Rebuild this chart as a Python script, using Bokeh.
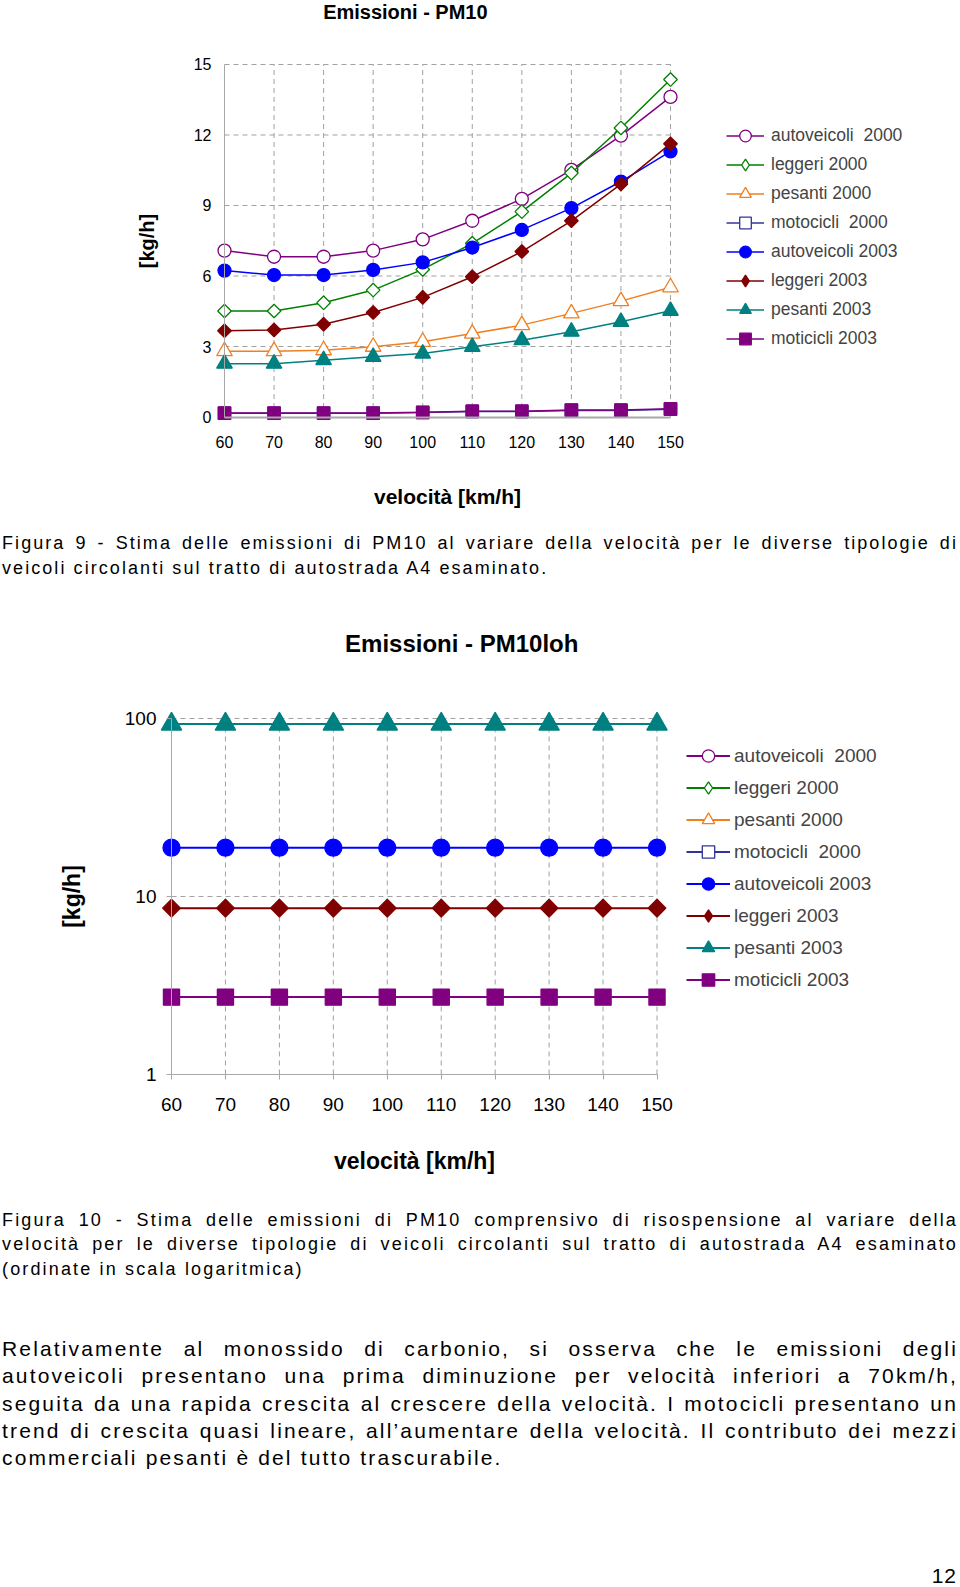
import numpy as np
from bokeh.plotting import figure
from bokeh.models import (Range1d, FixedTicker, Label, Legend, LegendItem, Div,
                          BasicTickFormatter)
from bokeh.layouts import column
from bokeh.embed import file_html
from bokeh.resources import INLINE

# ---------------- data ----------------
speeds = [60, 70, 80, 90, 100, 110, 120, 130, 140, 150]
y_ticks_lin = [0, 3, 6, 9, 12, 15]
y_ticks_log = [1, 10, 100]

labels = ["autoveicoli  2000", "leggeri 2000", "pesanti 2000", "motocicli  2000",
          "autoveicoli 2003", "leggeri 2003", "pesanti 2003", "moticicli 2003"]

# Figura 9 - PM10 [kg/h]
pm10_auto_2000 = [7.08, 6.82, 6.82, 7.08, 7.56, 8.35, 9.28, 10.52, 11.97, 13.62]
pm10_legg_2000 = [4.51, 4.51, 4.86, 5.40, 6.28, 7.39, 8.74, 10.38, 12.30, 14.36]
pm10_pes_2000 = [2.80, 2.80, 2.84, 2.99, 3.20, 3.55, 3.91, 4.41, 4.93, 5.52]
pm10_moto_2000 = [0.16, 0.16, 0.16, 0.16, 0.19, 0.23, 0.23, 0.28, 0.28, 0.33]
pm10_auto_2003 = [6.23, 6.04, 6.04, 6.26, 6.58, 7.21, 7.96, 8.89, 10.02, 11.30]
pm10_legg_2003 = [3.67, 3.70, 3.95, 4.45, 5.09, 5.97, 7.04, 8.35, 9.91, 11.63]
pm10_pes_2003 = [2.27, 2.27, 2.42, 2.56, 2.70, 2.99, 3.27, 3.63, 4.05, 4.52]
pm10_moto_2003 = [0.17, 0.17, 0.17, 0.17, 0.20, 0.25, 0.25, 0.30, 0.30, 0.35]

# Figura 10 - PM10 con risospensione [kg/h] (log); 2000 series not plotted
loh_auto_2000 = [None, None, None, None, None, None, None, None, None, None]
loh_legg_2000 = [None, None, None, None, None, None, None, None, None, None]
loh_pes_2000 = [None, None, None, None, None, None, None, None, None, None]
loh_moto_2000 = [None, None, None, None, None, None, None, None, None, None]
loh_auto_2003 = [18.8, 18.8, 18.8, 18.8, 18.8, 18.8, 18.8, 18.8, 18.8, 18.8]
loh_legg_2003 = [8.6, 8.6, 8.6, 8.6, 8.6, 8.6, 8.6, 8.6, 8.6, 8.6]
loh_pes_2003 = [93.0, 93.0, 93.0, 93.0, 93.0, 93.0, 93.0, 93.0, 93.0, 93.0]
loh_moto_2003 = [2.72, 2.72, 2.72, 2.72, 2.72, 2.72, 2.72, 2.72, 2.72, 2.72]

# ---------------- styles ----------------
FONT = "Liberation Sans"
GRID = "#a0a0a0"
AXIS = "#a8a8a8"
W = 960

# (color, marker, filled, angle)
styles = [
    ("#800080", "circle", False, 0.0),
    ("#008000", "square", False, 0.785398),
    ("#f07f1f", "triangle", False, 0.0),
    ("#333399", "square", False, 0.0),
    ("#0000ff", "circle", True, 0.0),
    ("#800000", "square", True, 0.785398),
    ("#008080", "triangle", True, 0.0),
    ("#800080", "square", True, 0.0),
]


def marker_size(marker, angle, base):
    if marker == "circle":
        return base
    if marker == "triangle":
        return base * 1.2
    if angle:
        return base * 0.74
    return base * 0.95


def make_fig(h, xr, yr, log=False):
    p = figure(width=W, height=h, x_range=Range1d(*xr), y_range=Range1d(*yr),
               y_axis_type="log" if log else "linear",
               min_border=0, min_border_left=0, min_border_right=0,
               min_border_top=0, min_border_bottom=0, title=None,
               output_backend="svg", toolbar_location=None)
    p.outline_line_color = None
    p.grid.visible = False
    for ax in p.axis:
        ax.major_label_text_font = FONT
        ax.major_label_text_color = "#000000"
        ax.minor_tick_line_color = None
        ax.axis_line_color = AXIS
        ax.major_tick_line_color = AXIS
        ax.major_tick_in = 0
        ax.axis_label_text_font = FONT
        ax.axis_label_text_font_style = "bold"
        ax.axis_label_text_color = "#000000"
    return p


def add_grid(p, yt, dash_w):
    n_x = len(speeds)
    p.segment(x0=speeds[1:], y0=[yt[0]] * (n_x - 1), x1=speeds[1:],
              y1=[yt[-1]] * (n_x - 1), line_color=GRID, line_dash=dash_w,
              line_width=1)
    p.segment(x0=[speeds[0]] * (len(yt) - 1), y0=yt[1:],
              x1=[speeds[-1]] * (len(yt) - 1), y1=yt[1:],
              line_color=GRID, line_dash=dash_w, line_width=1)


def add_series(p, ys_list, base_size, lw):
    items = []
    for lab, ys, (col, mk, filled, ang) in zip(labels, ys_list, styles):
        ys = [np.nan if v is None else v for v in ys]
        xs = speeds[:len(ys)]
        fill = col if filled else "#ffffff"
        lr = p.line(xs, ys, line_color=col, line_width=lw)
        sr = p.scatter(xs, ys, marker=mk, size=marker_size(mk, ang, base_size),
                       angle=ang, line_color=col, line_width=1.3, fill_color=fill)
        if ang:
            # legend glyphs are drawn unrotated: use a diamond proxy for the key
            proxy = p.scatter([np.nan], [np.nan], marker="diamond", size=base_size,
                              line_color=col, line_width=1.3, fill_color=fill)
            items.append(LegendItem(label=lab, renderers=[lr, proxy]))
        else:
            items.append(LegendItem(label=lab, renderers=[lr, sr]))
    return items


# ---------------- chart 1 (linear) ----------------
p1 = make_fig(520, (14.80, 208.52), (-4.404, 17.723))
p1.xaxis.ticker = FixedTicker(ticks=speeds)
p1.yaxis.ticker = FixedTicker(ticks=y_ticks_lin)
p1.xaxis.fixed_location = y_ticks_lin[0]
p1.yaxis.fixed_location = speeds[0]
p1.xaxis.bounds = (speeds[0], speeds[-1])
p1.yaxis.bounds = (y_ticks_lin[0], y_ticks_lin[-1])
for ax in p1.axis:
    ax.major_label_text_font_size = "16px"
    ax.major_tick_out = 0
p1.xaxis.axis_line_width = 2
p1.xaxis.major_label_standoff = 19
p1.yaxis.major_label_standoff = 13
p1.xaxis.axis_label = "velocità [km/h]"
p1.xaxis.axis_label_text_font_size = "21px"
p1.xaxis.axis_label_standoff = 33
p1.yaxis.axis_label = "[kg/h]"
p1.yaxis.axis_label_text_font_size = "20px"
p1.yaxis.axis_label_standoff = 33

add_grid(p1, y_ticks_lin, "5 4")
items1 = add_series(p1, [pm10_auto_2000, pm10_legg_2000, pm10_pes_2000, pm10_moto_2000,
                         pm10_auto_2003, pm10_legg_2003, pm10_pes_2003, pm10_moto_2003],
                    13, 1.5)
leg1 = Legend(items=items1, location=(726, 167), glyph_width=38, glyph_height=29,
              spacing=0, padding=0, margin=0, label_standoff=7,
              label_text_font=FONT, label_text_font_size="17.5px",
              label_height=20, border_line_color=None, background_fill_alpha=0)
p1.add_layout(leg1)
p1.add_layout(Label(x=96.5, y=17.25, text="Emissioni - PM10", text_font=FONT,
                    text_font_size="20px", text_font_style="bold",
                    text_color="#000000",
                    text_align="center", text_baseline="middle"))


# ---------------- text blocks ----------------
def text_block(lines, size, lh, pad_top, height, ls, last_left=True):
    parts = []
    for i, ln in enumerate(lines):
        last = (i == len(lines) - 1) and last_left
        al = "left" if last else "justify"
        parts.append(f'<div style="text-align:justify;text-align-last:{al};">{ln}</div>')
    html = (f'<div style="font-family:\'{FONT}\',sans-serif;font-size:{size}px;'
            f'line-height:{lh}px;padding-top:{pad_top}px;letter-spacing:{ls}px;'
            f'padding-left:2px;padding-right:2px;box-sizing:border-box;'
            f'color:#000;width:{W}px;">' + "".join(parts) + "</div>")
    return Div(text=html, width=W, height=height, margin=(0, 0, 0, 0))


cap1_lines = [
    "Figura 9 - Stima delle emissioni di PM10 al variare della velocità per le diverse tipologie di",
    "veicoli circolanti sul tratto di autostrada A4 esaminato.",
]
cap1 = text_block(cap1_lines, 18, 25, 10.5, 65, 2.07)

# ---------------- chart 2 (log) ----------------
p2 = make_fig(600, (28.30, 206.26), (0.2378, 558.7), log=True)
p2.xaxis.ticker = FixedTicker(ticks=speeds)
p2.yaxis.ticker = FixedTicker(ticks=y_ticks_log)
p2.yaxis.formatter = BasicTickFormatter()
p2.xaxis.fixed_location = y_ticks_log[0]
p2.yaxis.fixed_location = speeds[0]
p2.xaxis.bounds = (speeds[0], speeds[-1])
p2.yaxis.bounds = (y_ticks_log[0], y_ticks_log[-1])
for ax in p2.axis:
    ax.major_label_text_font_size = "19px"
    ax.major_tick_out = 5
p2.xaxis.major_label_standoff = 19
p2.yaxis.major_label_standoff = 10
p2.xaxis.axis_label = "velocità [km/h]"
p2.xaxis.axis_label_text_font_size = "23px"
p2.xaxis.axis_label_standoff = 33
p2.yaxis.axis_label = "[kg/h]"
p2.yaxis.axis_label_text_font_size = "23px"
p2.yaxis.axis_label_standoff = 37

add_grid(p2, y_ticks_log, "5 4")
items2 = add_series(p2, [loh_auto_2000, loh_legg_2000, loh_pes_2000, loh_moto_2000,
                         loh_auto_2003, loh_legg_2003, loh_pes_2003, loh_moto_2003],
                    17, 2)
leg2 = Legend(items=items2, location=(686, 190), glyph_width=44, glyph_height=31,
              spacing=1, padding=0, margin=0, label_standoff=4,
              label_text_font=FONT, label_text_font_size="19px",
              label_height=20, border_line_color=None, background_fill_alpha=0)
p2.add_layout(leg2)
p2.add_layout(Label(x=113.8, y=263.9, text="Emissioni - PM10loh", text_font=FONT,
                    text_font_size="24px", text_font_style="bold",
                    text_color="#000000",
                    text_align="center", text_baseline="middle"))

# ---------------- caption 2 and paragraph ----------------
cap2_lines = [
    "Figura 10 - Stima delle emissioni di PM10 comprensivo di risospensione al variare della",
    "velocità per le diverse tipologie di veicoli circolanti sul tratto di autostrada A4 esaminato",
    "(ordinate in scala logaritmica)",
]
cap2 = text_block(cap2_lines, 18, 24.4, 22.8, 105, 2.15)

para_lines = [
    "Relativamente al monossido di carbonio, si osserva che le emissioni degli",
    "autoveicoli presentano una prima diminuzione per velocità inferiori a 70km/h,",
    "seguita da una rapida crescita al crescere della velocità. I motocicli presentano un",
    "trend di crescita quasi lineare, all’aumentare della velocità. Il contributo dei mezzi",
    "commerciali pesanti è del tutto trascurabile.",
]
para = text_block(para_lines, 21, 27.4, 44.8, 190, 2.15)

pnum = Div(text=(f'<div style="font-family:\'{FONT}\',sans-serif;font-size:21px;'
                 f'line-height:24px;padding-top:84px;padding-right:3px;'
                 f'box-sizing:border-box;text-align:right;width:{W}px;'
                 f'letter-spacing:1px;color:#000;">12</div>'),
           width=W, height=106, margin=(0, 0, 0, 0))

layout = column(p1, cap1, p2, cap2, para, pnum, spacing=0)

open("out.html", "w", encoding="utf-8").write(file_html(layout, INLINE))
